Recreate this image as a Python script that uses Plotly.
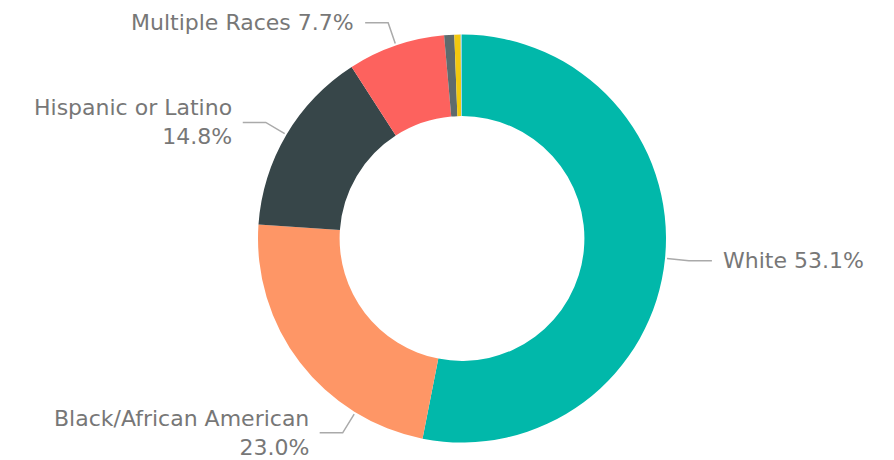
import math
import plotly.graph_objects as go

# ---- data ----
categories = ["White", "Black/African American", "Hispanic or Latino", "Multiple Races",
              "Asian", "American Indian/Alaska Native", "Native Hawaiian/Pacific Islander"]
shares = [53.1, 23.0, 14.8, 7.7, 0.8, 0.5, 0.1]
colors = ["#01B8AA", "#FE9666", "#374649", "#FD625E", "#5F6B6D", "#F2C80F", "#8AD4EB"]
label_texts = ["White 53.1%", "Black/African American<br>23.0%", "Hispanic or Latino<br>14.8%",
               "Multiple Races 7.7%"]

# ---- layout constants ----
W, H = 894, 460
CX, CY, R = 462.0, 238.5, 204.0
angle_shift = [0.0, -21.0, 0.0, 0.0]   # label anchor adjustment (degrees)

fig = go.Figure(go.Pie(
    labels=categories, values=shares, marker=dict(colors=colors, line=dict(width=0)),
    hole=0.6, sort=False, direction="clockwise", rotation=0,
    textinfo="none", hoverinfo="label+percent",
    domain=dict(x=[(CX - (W - CX)) / W, 1.0], y=[(H - CY - R) / H, (H - CY + R) / H]),
    showlegend=False,
))

def px(x, y):
    return x / W, 1 - y / H

total = sum(shares)
cum = 0.0
shapes, annotations = [], []
for i, v in enumerate(shares):
    mid = (cum + v / 2) / total * 360.0
    cum += v
    if i >= len(label_texts):
        continue
    th = math.radians(mid + angle_shift[i])
    s, c = math.sin(th), math.cos(th)
    x0, y0 = CX + (R + 2) * s, CY - (R + 2) * c
    x1, y1 = CX + (R + 24) * s, CY - (R + 24) * c
    side = 1 if s > 0 else -1
    x2 = x1 + side * 23
    pts = [px(x0, y0), px(x1, y1), px(x2, y1)]
    path = "M {} {} L {} {} L {} {}".format(*[p for q in pts for p in q])
    shapes.append(dict(type="path", path=path, xref="paper", yref="paper",
                       line=dict(color="#AAAAAA", width=1.5)))
    lx, ly = px(x2 + side * 9, y1)
    annotations.append(dict(
        text=label_texts[i], x=lx, y=ly, xref="paper", yref="paper", showarrow=False,
        xanchor="left" if side > 0 else "right", yanchor="middle",
        align="left" if side > 0 else "right",
        font=dict(family="DejaVu Sans", size=22, color="#777777"),
    ))

fig.update_layout(
    width=W, height=H, margin=dict(l=0, r=0, t=0, b=0),
    paper_bgcolor="white", plot_bgcolor="white",
    shapes=shapes, annotations=annotations,
)
fig.write_html("out.html", config={"displayModeBar": False},
               post_script="document.body.style.margin='0px';")
